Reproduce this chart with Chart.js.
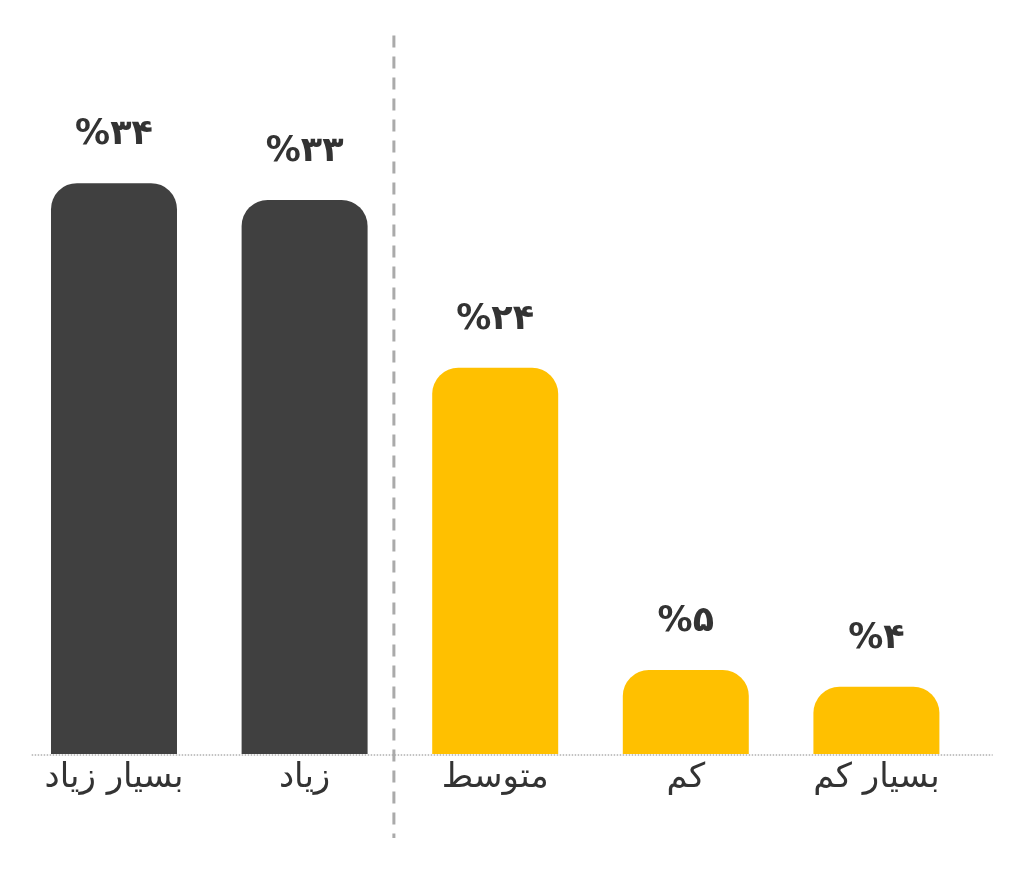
<!DOCTYPE html>
<html>
<head>
<meta charset="utf-8">
<script src="https://cdn.jsdelivr.net/npm/chart.js@4/dist/chart.umd.min.js"></script>
<style>
html,body{margin:0;padding:0;background:#fff;}
#wrap{width:1024px;height:874px;}
</style>
</head>
<body>
<div id="wrap"><canvas id="c" width="1024" height="874"></canvas></div>
<script>
const categories = ["بسیار زیاد", "زیاد", "متوسط", "کم", "بسیار کم"];
const values = [34, 33, 23, 5, 4];
const valueLabels = ["%۳۴", "%۳۳", "%۲۴", "%۵", "%۴"];
const barColors = ["#404040", "#404040", "#FFC000", "#FFC000", "#FFC000"];

const decor = {
  id: 'decor',
  beforeDatasetsDraw(chart) {
    const ctx = chart.ctx;
    const x = chart.scales.x, y = chart.scales.y;
    const base = y.getPixelForValue(0);
    ctx.save();
    // dotted baseline
    ctx.strokeStyle = '#b0b0b0';
    ctx.lineWidth = 1.5;
    ctx.setLineDash([1.5, 1.5]);
    ctx.beginPath();
    ctx.moveTo(chart.chartArea.left + 13, base + 1);
    ctx.lineTo(chart.chartArea.right + 21, base + 1);
    ctx.stroke();
    // dashed divider
    const dx = (x.getPixelForValue(1) + x.getPixelForValue(2)) / 2 - 6;
    ctx.strokeStyle = '#aaaaaa';
    ctx.lineWidth = 3;
    ctx.setLineDash([12, 9]);
    ctx.beginPath();
    ctx.moveTo(dx, chart.chartArea.top - 47);
    ctx.lineTo(dx, base + 84);
    ctx.stroke();
    ctx.restore();
  },
  afterDatasetsDraw(chart) {
    const ctx = chart.ctx;
    const meta = chart.getDatasetMeta(0);
    ctx.save();
    ctx.fillStyle = '#333333';
    ctx.font = 'bold 35px "DejaVu Sans"';
    ctx.textAlign = 'center';
    ctx.textBaseline = 'middle';
    meta.data.forEach((bar, i) => {
      ctx.fillText(valueLabels[i], bar.x, bar.y - 48);
    });
    ctx.restore();
  }
};

new Chart(document.getElementById('c'), {
  type: 'bar',
  data: {
    labels: categories,
    datasets: [{
      data: values,
      backgroundColor: barColors,
      borderRadius: 26,
      borderSkipped: 'start',
      categoryPercentage: 1,
      barPercentage: 0.661
    }]
  },
  options: {
    responsive: false,
    animation: false,
    devicePixelRatio: 1,
    layout: { padding: { top: 82.4, left: 18.7, right: 52.3, bottom: 71.2 } },
    plugins: { legend: { display: false }, tooltip: { enabled: false } },
    scales: {
      y: { display: false, min: 0, max: 40 },
      x: {
        grid: { display: false, drawTicks: false, tickLength: 0 },
        border: { display: false },
        ticks: {
          padding: 4,
          color: '#333333',
          font: { family: '"DejaVu Sans"', size: 34 },
          maxRotation: 0
        }
      }
    }
  },
  plugins: [decor]
});
</script>
</body>
</html>
